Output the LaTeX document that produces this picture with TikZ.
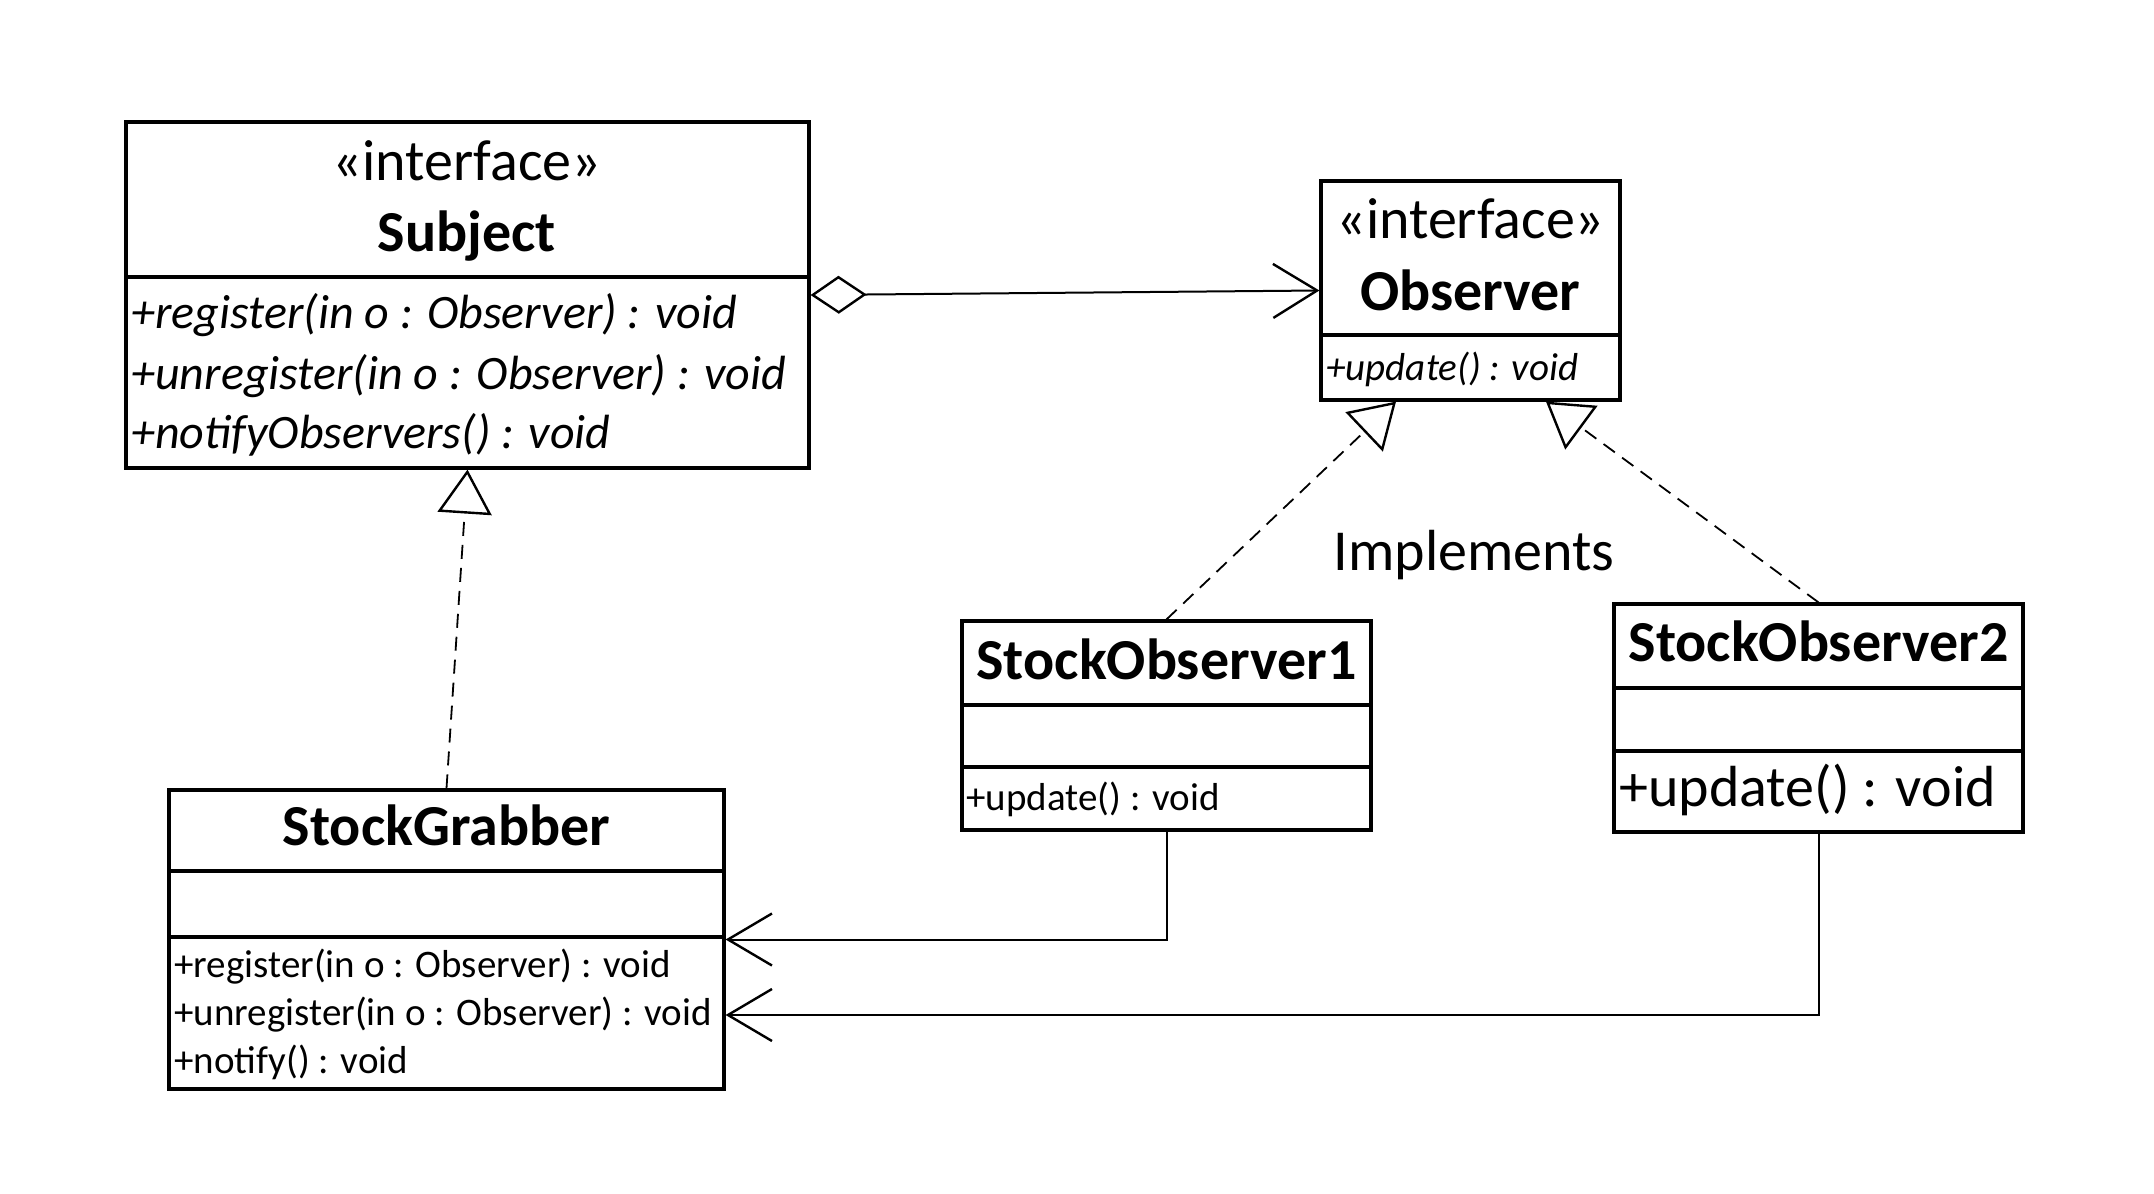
\documentclass[tikz,border=0pt]{standalone}
\usepackage{fontspec}
\setmainfont{Carlito}
\usetikzlibrary{arrows.meta}
\begin{document}
\begin{tikzpicture}[x=0.5pt,y=-0.5pt,
  box/.style={draw, line width=1.6pt, inner sep=0pt, rectangle},
  div/.style={line width=1.6pt},
  txt/.style={inner sep=0pt, text height=1.3em, text depth=0em},
  txtl/.style={inner sep=0pt, text height=1.5em, text depth=0em},
  ttl/.style={txtl, font=\fontsize{29}{35}\selectfont},
  ttlb/.style={txtl, font=\fontsize{29}{35}\selectfont\bfseries},
  mbig/.style={txtl, anchor=west, font=\fontsize{24}{30}\selectfont\itshape},
  msmall/.style={txt, anchor=west, font=\fontsize{19.5}{24}\selectfont},
  msmalli/.style={msmall, font=\fontsize{19.5}{24}\selectfont\itshape},
  conn/.style={line width=1pt},
  real/.style={line width=0.9pt, dash pattern=on 7pt off 4.5pt, -{Triangle[open, length=22pt, width=27pt, line width=1.2pt]}},
  dep/.style={conn, -{Straight Barb[length=22pt, width=26pt, line width=1.2pt]}}
]
\useasboundingbox (0,0) rectangle (2154,1194);

% Subject
\node[box, minimum width=341.5pt, minimum height=173pt] (subject) at (467.5,295) {};
\draw[div] (126,277) -- (809,277);
\node[ttl] (sI) at (467,165) {«interface»};
\node[ttlb] (sN) at (467,236) {Subject};
\node[mbig] (s1) at (131,313) {+register(in o : Observer) : void};
\node[mbig] (s2) at (131,374) {+unregister(in o : Observer) : void};
\node[mbig] (s3) at (131,433) {+notifyObservers() : void};

% Observer
\node[box, minimum width=149.5pt, minimum height=109.5pt] (observer) at (1470.5,290.5) {};
\draw[div] (1321,335) -- (1620,335);
\node[ttl] (oI) at (1470.5,223) {«interface»};
\node[ttlb] (oN) at (1470.5,295) {Observer};
\node[msmalli] (o1) at (1326,367) {+update() : void};

% StockGrabber
\node[box, minimum width=277.5pt, minimum height=149.5pt] (grabber) at (446.5,939.5) {};
\draw[div] (169,871) -- (724,871);
\draw[div] (169,937) -- (724,937);
\node[ttlb] (gN) at (446.5,830) {StockGrabber};
\node[msmall] (g1) at (174,964) {+register(in o : Observer) : void};
\node[msmall] (g2) at (174,1012) {+unregister(in o : Observer) : void};
\node[msmall] (g3) at (174,1060) {+notify() : void};

% StockObserver1
\node[box, minimum width=204.5pt, minimum height=104.5pt] (so1) at (1166.5,725.5) {};
\draw[div] (962,705) -- (1371,705);
\draw[div] (962,767) -- (1371,767);
\node[ttlb] (so1N) at (1166.5,664) {StockObserver1};
\node[msmall] (so1u) at (966,797) {+update() : void};

% StockObserver2
\node[box, minimum width=204.5pt, minimum height=114pt] (so2) at (1818.5,718) {};
\draw[div] (1614,688) -- (2023,688);
\draw[div] (1614,751) -- (2023,751);
\node[ttlb] (so2N) at (1818.5,646) {StockObserver2};
\node[txtl, anchor=west, font=\fontsize{29}{35}\selectfont] (so2u) at (1619,791) {+update() : void};

% Implements label
\node[ttl] (impl) at (1474,555) {Implements};

% Aggregation
\draw[conn, {Diamond[open, length=28pt, width=19pt, line width=1.2pt]}-{Straight Barb[length=22pt, width=27pt, line width=1.2pt]}] (subject.east) -- (observer.west);

% Realizations
\draw[real] (grabber.north) -- (subject.south);
\draw[real] (so1.north) -- ([xshift=-37.25pt]observer.south);
\draw[real] (so2.north) -- ([xshift=37.75pt]observer.south);

% Dependencies
\draw[dep] (so1.south) |- (grabber.east);
\draw[dep] (so2.south) |- ([yshift=-37.75pt]grabber.east);
\end{tikzpicture}
\end{document}
